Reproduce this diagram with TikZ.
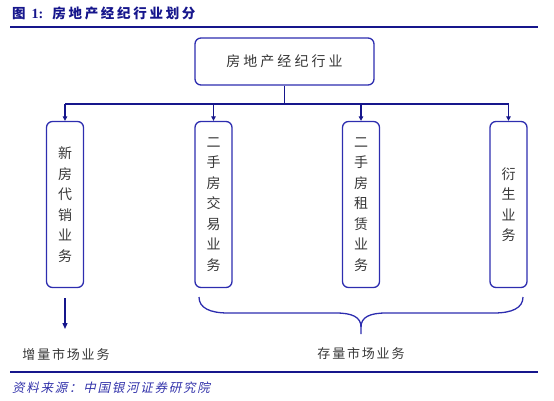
\documentclass[tikz,border=0pt]{standalone}
\usepackage{fontspec}
\usetikzlibrary{arrows.meta}
\newfontfamily\cjk{Noto Sans CJK SC}
\newfontfamily\cjkit[FakeSlant=0.22]{Noto Sans CJK SC}
\newfontfamily\serifb{Liberation Serif}
\definecolor{navy}{RGB}{22,22,140}
\definecolor{boxblue}{RGB}{45,45,175}
\definecolor{txt}{RGB}{55,55,55}
\definecolor{srcblue}{RGB}{50,50,170}
\begin{document}
\begin{tikzpicture}[x=1pt,y=-1pt,
  boxsty/.style={draw=boxblue,line width=1.3pt,rounded corners=6pt,text=txt,inner sep=0pt},
  tallbox/.style={boxsty,minimum width=37pt,minimum height=166pt,align=center,
    font=\cjk\fontsize{14}{20.5}\selectfont},
  topbox/.style={boxsty,minimum width=179pt,minimum height=47pt,
    font=\cjk\fontsize{14}{16}\selectfont\addfontfeature{LetterSpace=22}},
  conn/.style={draw=navy,line width=1.2pt},
  arr/.style={conn,-{Triangle[length=4.5pt,width=4.5pt]}},
  lbl/.style={text=txt,inner sep=0pt,font=\cjk\fontsize{13}{15}\selectfont\addfontfeature{LetterSpace=14}},
]
\useasboundingbox (0,0) rectangle (554,401);
% title
\node[anchor=west,inner sep=0pt,text=navy] (title) at (12,13.5)
  {\cjk\bfseries\fontsize{13.5}{15}\selectfont 图\hspace{6pt}{\serifb\bfseries\fontsize{14}{15}\selectfont 1:}\hspace{9pt}\addfontfeature{LetterSpace=20}房地产经纪行业划分};
\draw[navy,line width=2pt] (10,27.5) -- (538,27.5);
% boxes
\node[topbox] (top) at (284.5,61.5) {房地产经纪行业};
\node[tallbox] (b1) at (65,204.5) {新\\房\\代\\销\\业\\务};
\node[tallbox] (b2) at (213.5,204.5) {二\\手\\房\\交\\易\\业\\务};
\node[tallbox] (b3) at (361,204.5) {二\\手\\房\\租\\赁\\业\\务};
\node[tallbox] (b4) at (508.5,204.5) {衍\\生\\业\\务};
% bus
\coordinate (bus) at (284.5,104);
\draw[conn] (top.south) -- (bus);
\draw[conn] (b1.north |- bus) -- (b4.north |- bus);
\foreach \b in {b1,b2,b3,b4}{
  \draw[arr] (\b.north |- bus) -- (\b.north);
}
% labels
\node[lbl] (inc) at (66,354) {增量市场业务};
\node[lbl] (stk) at (361,353.5) {存量市场业务};
\coordinate (a1) at (65,329);
\draw[conn,line width=1.3pt,-{Triangle[length=6pt,width=5pt]}] ([yshift=-10pt]b1.south) -- (a1);
% brace
\draw[draw=boxblue,line width=1.3pt]
  (199,297) .. controls (199,308) and (210,313) .. (228,313) -- (336,313)
  .. controls (352,313) and (361,317) .. (361,327) -- (361,334);
\draw[draw=boxblue,line width=1.3pt]
  (523,297) .. controls (523,308) and (512,313) .. (494,313) -- (386,313)
  .. controls (370,313) and (361,317) .. (361,327);
% bottom
\draw[navy,line width=2pt] (10,372) -- (538,372);
\node[anchor=west,inner sep=0pt,text=srcblue] (src) at (12,387.5)
  {\cjkit\fontsize{12.5}{14}\selectfont\addfontfeature{LetterSpace=14}资料来源：中国银河证券研究院};
\end{tikzpicture}
\end{document}
